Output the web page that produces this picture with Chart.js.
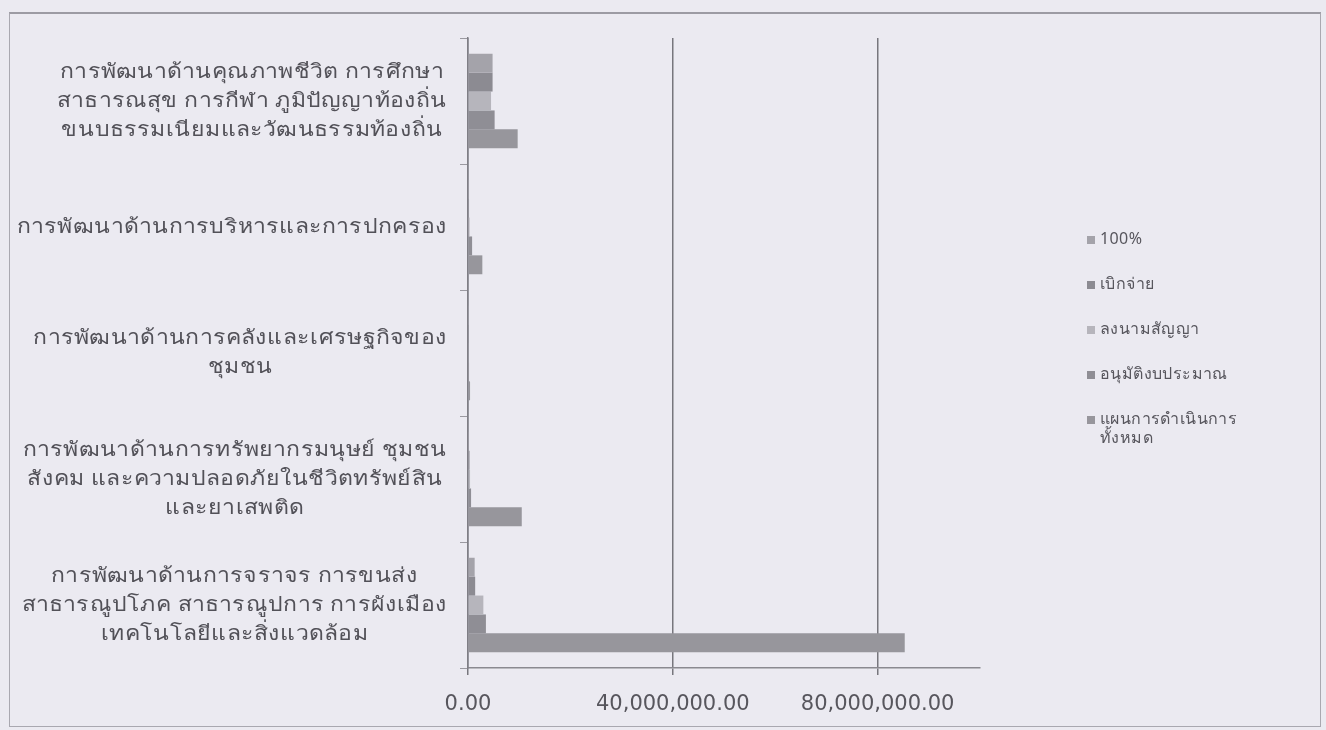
<!DOCTYPE html>
<html>
<head>
<meta charset="utf-8">
<script src="https://cdn.jsdelivr.net/npm/chart.js@4.4.1/dist/chart.umd.min.js"></script>
<style>
  html, body { margin: 0; padding: 0; background: #ebeaf1; }
  body { width: 1326px; height: 730px; position: relative; overflow: hidden; font-family: "Noto Sans", "DejaVu Sans", sans-serif; }
  #frame { position: absolute; left: 9px; top: 12px; width: 1310px; height: 712px; border: 1px solid #a9a8b0; border-top: 2px solid #9c9ba3; }
  #wrap { position: absolute; left: 0; top: 0; width: 1326px; height: 730px; }
  #legend { position: absolute; left: 1087px; top: 229px; color: #57565d; font-size: 16px; letter-spacing: 0.4px; }
  .item { display: flex; align-items: flex-start; height: 45px; }
  .box { width: 8px; height: 8px; margin: 7px 5px 0 0; flex: none; }
  .txt { white-space: pre-line; line-height: 19px; }
</style>
</head>
<body>
<div id="frame"></div>
<div id="wrap"><canvas id="myChart" width="1326" height="730"></canvas></div>
<div id="legend"></div>
<script>
// categories, top to bottom
const categories = [
  ['การพัฒนาด้านคุณภาพชีวิต การศึกษา', 'สาธารณสุข การกีฬา ภูมิปัญญาท้องถิ่น', 'ขนบธรรมเนียมและวัฒนธรรมท้องถิ่น'],
  ['การพัฒนาด้านการบริหารและการปกครอง'],
  ['การพัฒนาด้านการคลังและเศรษฐกิจของ', 'ชุมชน'],
  ['การพัฒนาด้านการทรัพยากรมนุษย์ ชุมชน', 'สังคม และความปลอดภัยในชีวิตทรัพย์สิน', 'และยาเสพติด'],
  ['การพัฒนาด้านการจราจร การขนส่ง', 'สาธารณูปโภค สาธารณูปการ การผังเมือง', 'เทคโนโลยีและสิ่งแวดล้อม']
]
const seriesNames = ['100%', 'เบิกจ่าย', 'ลงนามสัญญา', 'อนุมัติงบประมาณ', 'แผนการดำเนินการ\nทั้งหมด']
const pct100 = [4800000, 200000, 100000, 200000, 1300000]
const disbursed = [4800000, 200000, 100000, 300000, 1400000]
const signed = [4500000, 300000, 150000, 400000, 3000000]
const approved = [5200000, 800000, 200000, 600000, 3500000]
const plan = [9700000, 2800000, 400000, 10500000, 85300000]
const xTicks = [0, 40000000, 80000000]
const xMax = 100000000

const colors = ['#a4a3aa', '#8c8b92', '#b6b5bc', '#8f8e95', '#97969c']
const allSeries = [pct100, disbursed, signed, approved, plan]

// draws the y labels as centred blocks, right edge near the axis
// (the scanned font is wider than what we have, so stretch it a bit)
const catLabels = {
  id: 'catLabels',
  afterDraw(chart) {
    const ctx = chart.ctx
    const y = chart.scales.y
    const sx = 1.15
    ctx.save()
    ctx.font = '20px "Noto Sans", "DejaVu Sans", sans-serif'
    ctx.letterSpacing = '0.4px'
    ctx.fillStyle = '#525158'
    ctx.textAlign = 'center'
    ctx.textBaseline = 'middle'
    const lh = 29
    categories.forEach((lines, i) => {
      const cy = y.getPixelForValue(i)
      const w = Math.max(...lines.map(l => ctx.measureText(l).width)) * sx
      const cx = chart.chartArea.left - 21 - w / 2
      lines.forEach((l, j) => {
        ctx.save()
        ctx.translate(cx, cy + (j - (lines.length - 1) / 2) * lh)
        ctx.scale(sx, 1)
        ctx.fillText(l, 0, 0)
        ctx.restore()
      })
    })
    ctx.restore()
  }
}

const ctx = document.getElementById('myChart').getContext('2d')
let myChart = new Chart(ctx, {
  type: 'bar',
  data: {
    labels: categories.map(c => c.join(' ')),
    datasets: allSeries.map((d, i) => ({
      label: seriesNames[i],
      data: d,
      backgroundColor: colors[i],
      borderWidth: 0,
      barPercentage: 1,
      categoryPercentage: 0.75
    }))
  },
  options: {
    indexAxis: 'y',
    responsive: false,
    animation: false,
    layout: { padding: { left: 0, top: 38, right: 346, bottom: 0 } },
    plugins: { legend: { display: false }, tooltip: { enabled: false } },
    scales: {
      x: {
        min: 0,
        max: xMax,
        ticks: {
          stepSize: 40000000,
          color: '#57565d',
          font: { size: 21, family: '"DejaVu Sans", sans-serif' },
          padding: 17,
          callback: v => v.toLocaleString('en-US', { minimumFractionDigits: 2, maximumFractionDigits: 2 })
        },
        afterBuildTicks: s => { s.ticks = xTicks.map(v => ({ value: v })) },
        afterFit: s => { s.height = 62 },
        grid: { color: '#77767d', lineWidth: 1.5, tickLength: 7 },
        border: { color: '#8a8990', width: 1.5 }
      },
      y: {
        ticks: { display: false },
        afterFit: s => { s.width = 468 },
        grid: { drawOnChartArea: false, tickLength: 8, color: '#9a99a0' },
        border: { color: '#7f7e85', width: 1.5 }
      }
    }
  },
  plugins: [catLabels]
})

// legend from the chart's datasets
const legend = document.getElementById('legend')
myChart.data.datasets.forEach(ds => {
  const item = document.createElement('div')
  item.className = 'item'
  item.innerHTML = '<span class="box" style="background:' + ds.backgroundColor + '"></span><span class="txt"></span>'
  item.querySelector('.txt').textContent = ds.label
  legend.appendChild(item)
})
</script>
</body>
</html>
